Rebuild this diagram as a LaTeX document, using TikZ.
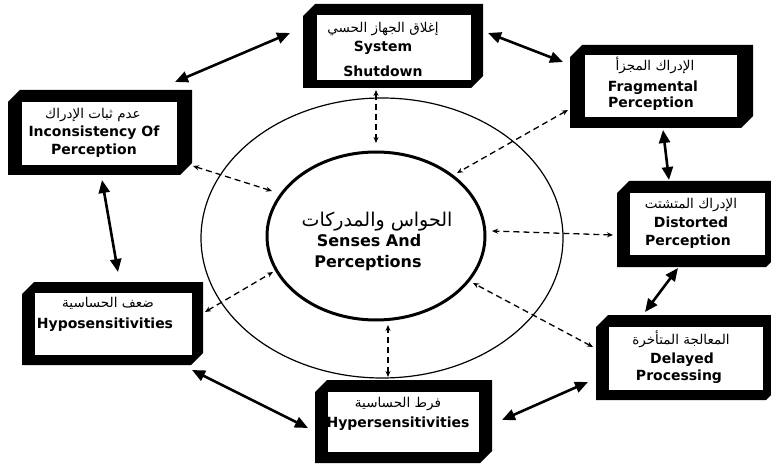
\documentclass[tikz,border=0pt]{standalone}
\usepackage{fontspec}
\usetikzlibrary{arrows.meta,shapes.geometric}
\TeXXeTstate=1
\newfontfamily\enfont{DejaVu Sans}
\newfontfamily\arfont[Script=Arabic]{DejaVu Sans}
\newcommand\chambox[9]{%
  \fill[black] (#2,{#3+12}) -- ({#2+12},#3) -- (#4,#3) -- (#4,{#5-12}) -- ({#4-12},#5) -- (#2,#5) -- cycle;
  \fill[white] (#6,#7) rectangle (#8,#9);
  \node[inner sep=0pt, outer sep=0pt, minimum width={(#4-#2)*1pt}, minimum height={(#5-#3)*1pt}] (#1) at ({(#2+#4)/2},{(#3+#5)/2}) {};
}
\tikzset{
  en/.style={font=\enfont\bfseries\fontsize{14}{16}\selectfont, anchor=base, inner sep=0pt},
  enc/.style={font=\enfont\bfseries\fontsize{16}{18}\selectfont, anchor=base, inner sep=0pt},
  ar/.style={font=\arfont\fontsize{13.5}{15}\selectfont, anchor=base, inner sep=0pt},
  arc/.style={font=\arfont\fontsize{19}{21}\selectfont, anchor=base, inner sep=0pt},
  biarrow/.style={line width=2.6pt, {Triangle[length=13pt,width=11pt]}-{Triangle[length=13pt,width=11pt]}},
  dasharr/.style={line width=1.3pt, dash pattern=on 6pt off 4pt, {Stealth[length=6pt,width=5pt]}-{Stealth[length=6pt,width=5pt]}}
}
\begin{document}
\begin{tikzpicture}[x=1pt,y=-1pt]
\useasboundingbox (0,0) rectangle (771,465);
% rings
\node[ellipse, draw, line width=1.2pt, minimum width=362pt, minimum height=280pt, inner sep=0pt] (ring) at (382,238) {};
\node[ellipse, draw, line width=3pt, minimum width=218pt, minimum height=168pt, inner sep=0pt] (core) at (376,236) {};
% boxes
\chambox{sys}{303}{4}{483}{88}{317}{15}{471}{80}
\chambox{inc}{8}{90}{192}{175}{22}{102}{177}{165}
\chambox{frag}{570}{45}{753}{128}{585}{55}{737}{117}
\chambox{dist}{617}{181}{778}{267}{630}{193}{765}{255}
\chambox{hypo}{22}{282}{203}{365}{35}{293}{192}{355}
\chambox{del}{596}{315}{778}{400}{609}{327}{763}{390}
\chambox{hyper}{315}{380}{492}{463}{328}{392}{479}{452}
% texts
\node[ar] (sysA) at (383,33) {\beginR إغلاق الجهاز الحسي\endR};
\node[en] (sysB) at (383,52) {System};
\node[en] (sysC) at (383,77) {Shutdown};
\node[ar] (incA) at (93,119) {\beginR عدم ثبات الإدراك\endR};
\node[en] (incB) at (94,137) {Inconsistency Of};
\node[en] (incC) at (94,155) {Perception};
\node[ar] (fragA) at (655,71) {\beginR الإدراك المجزأ\endR};
\node[en] (fragB) at (653,92) {Fragmental};
\node[en] (fragC) at (651,108) {Perception};
\node[ar] (distA) at (691,209) {\beginR الإدراك المتشتت\endR};
\node[en] (distB) at (691,228) {Distorted};
\node[en] (distC) at (688,245) {Perception};
\node[ar] (delA) at (681,344) {\beginR المعالجة المتأخرة\endR};
\node[en] (delB) at (682,363) {Delayed};
\node[en] (delC) at (679,380) {Processing};
\node[ar] (hyperA) at (398,407) {\beginR فرط الحساسية\endR};
\node[en] (hyperB) at (398,427) {Hypersensitivities};
\node[ar] (hypoA) at (108,307) {\beginR ضعف الحساسية\endR};
\node[en] (hypoB) at (105,328) {Hyposensitivities};
\node[arc] (coreA) at (377,226) {\beginR الحواس والمدركات\endR};
\node[enc] (coreB) at (369,247) {Senses And};
\node[enc] (coreC) at (368,267) {Perceptions};
% arrow ends
\coordinate (s1a) at (175,82);  \coordinate (s1b) at (290,33);
\coordinate (s2a) at (488,33);  \coordinate (s2b) at (563,62);
\coordinate (s3a) at (663,130); \coordinate (s3b) at (669,180);
\coordinate (s4a) at (678,268); \coordinate (s4b) at (645,312);
\coordinate (s5a) at (588,382); \coordinate (s5b) at (502,420);
\coordinate (s6a) at (192,370); \coordinate (s6b) at (308,428);
\coordinate (s7a) at (102,180); \coordinate (s7b) at (118,272);
\draw[biarrow] (s1a) -- (s1b);
\draw[biarrow] (s2a) -- (s2b);
\draw[biarrow] (s3a) -- (s3b);
\draw[biarrow] (s4a) -- (s4b);
\draw[biarrow] (s5a) -- (s5b);
\draw[biarrow] (s6a) -- (s6b);
\draw[biarrow] (s7a) -- (s7b);
\coordinate (d1a) at (376,90);  \coordinate (d1b) at (376,143);
\coordinate (d2a) at (193,166); \coordinate (d2b) at (272,191);
\coordinate (d3a) at (568,110); \coordinate (d3b) at (457,173);
\coordinate (d4a) at (613,235); \coordinate (d4b) at (492,231);
\coordinate (d5a) at (593,347); \coordinate (d5b) at (473,283);
\coordinate (d6a) at (388,377); \coordinate (d6b) at (388,325);
\coordinate (d7a) at (205,312); \coordinate (d7b) at (273,272);
\draw[dasharr] (d1a) -- (d1b);
\draw[dasharr] (d2a) -- (d2b);
\draw[dasharr] (d3a) -- (d3b);
\draw[dasharr] (d4a) -- (d4b);
\draw[dasharr] (d5a) -- (d5b);
\draw[dasharr] (d6a) -- (d6b);
\draw[dasharr] (d7a) -- (d7b);
\end{tikzpicture}
\end{document}
